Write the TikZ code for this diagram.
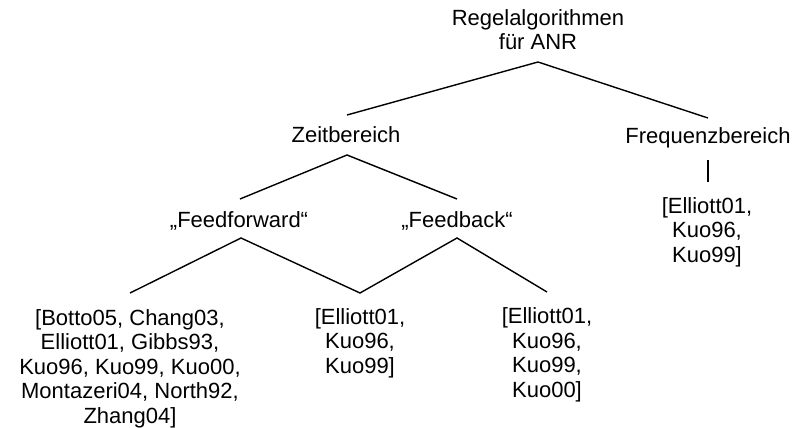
\documentclass[tikz,border=0pt]{standalone}
\usepackage{fontspec}
\setmainfont{Liberation Sans}
\begin{document}
\begin{tikzpicture}[x=1pt,y=-1pt,
  lbl/.style={inner sep=0pt, align=center, anchor=base, font=\fontsize{22}{24.5}\selectfont},
  edge/.style={line width=1.4pt, line join=miter}]
\useasboundingbox (0,0) rectangle (806,428);
% nodes (anchor = baseline of the last line)
\node[lbl] (root) at (538,50) {Regelalgorithmen\\für ANR};
\node[lbl] (zeit) at (346,142) {Zeitbereich};
\node[lbl] (freq) at (708,143) {Frequenzbereich};
\node[lbl] (freqleaf) at (707,262) {[Elliott01,\\Kuo96,\\Kuo99]};
\node[lbl] (ff) at (239,227) {„Feedforward“};
\node[lbl] (fb) at (457,227) {„Feedback“};
\node[lbl] (leafA) at (130,423) {[Botto05, Chang03,\\Elliott01, Gibbs93,\\Kuo96, Kuo99, Kuo00,\\Montazeri04, North92,\\Zhang04]};
\node[lbl] (leafB) at (360,373) {[Elliott01,\\Kuo96,\\Kuo99]};
\node[lbl] (leafC) at (547,397) {[Elliott01,\\Kuo96,\\Kuo99,\\Kuo00]};
% connector points
\coordinate (rootB) at (538,62);
\coordinate (zeitT) at (347,115);
\coordinate (freqT) at (708,118);
\coordinate (zeitB) at (347,155);
\coordinate (ffT) at (240,199);
\coordinate (fbT) at (457,199);
\coordinate (freqB) at (708,160);
\coordinate (freqleafT) at (708,182);
\coordinate (ffB) at (241,238);
\coordinate (fbB) at (457,238);
\coordinate (leafAT) at (130,293);
\coordinate (leafBT) at (360,293);
\coordinate (leafCT) at (547,292);
% connectors
\draw[edge] (zeitT) -- (rootB) -- (freqT);
\draw[edge] (ffT) -- (zeitB) -- (fbT);
\draw[edge] (freqB) -- (freqleafT);
\draw[edge] (leafAT) -- (ffB) -- (leafBT) -- (fbB) -- (leafCT);
\end{tikzpicture}
\end{document}
